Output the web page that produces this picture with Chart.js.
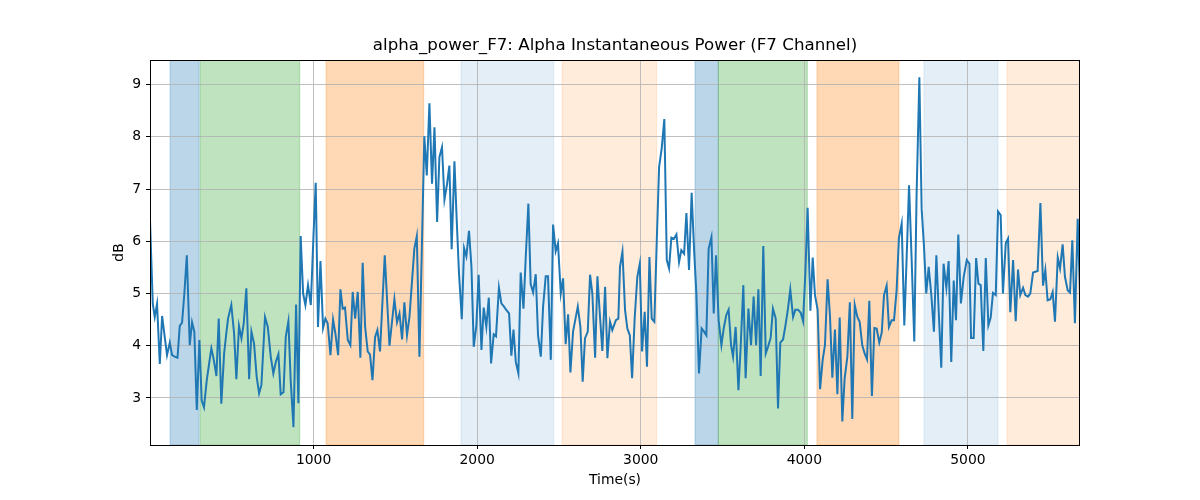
<!DOCTYPE html>
<html>
<head>
<meta charset="utf-8">
<script src="https://cdn.jsdelivr.net/npm/chart.js@4/dist/chart.umd.min.js"></script>
<style>
  html, body { margin: 0; padding: 0; background: #fff; }
  canvas { display: block; }
</style>
</head>
<body>
<canvas id="chart" width="1200" height="500"></canvas>
<script>
// time stamps (s) and alpha power (dB)
const timeSec = [
  0, 17, 29, 43, 60, 74, 90, 104, 121, 135, 151, 168, 182, 196, 210, 225, 243, 257, 271, 286,
  302, 316, 330, 347, 361, 375, 390, 406, 420, 436, 453, 465, 477, 497, 514, 528, 544, 559, 573, 589,
  606, 620, 636, 652, 667, 681, 703, 720, 738, 754, 769, 785, 799, 816, 830, 846, 860, 877, 893, 907,
  921, 936, 950, 966, 983, 999, 1013, 1027, 1042, 1058, 1072, 1086, 1103, 1119, 1133, 1150, 1164, 1178, 1192, 1209,
  1225, 1239, 1254, 1270, 1286, 1300, 1315, 1331, 1345, 1360, 1376, 1390, 1406, 1435, 1464, 1494, 1510, 1525, 1541, 1555,
  1571, 1586, 1616, 1631, 1647, 1677, 1692, 1708, 1724, 1739, 1755, 1769, 1785, 1800, 1816, 1830, 1844, 1861, 1875, 1889,
  1906, 1920, 1934, 1950, 1965, 1979, 1995, 2009, 2026, 2040, 2056, 2071, 2085, 2101, 2115, 2133, 2148, 2164, 2179, 2195,
  2209, 2222, 2236, 2252, 2266, 2283, 2297, 2313, 2327, 2342, 2358, 2372, 2389, 2403, 2419, 2433, 2450, 2464, 2480, 2494,
  2511, 2525, 2541, 2556, 2570, 2586, 2600, 2615, 2631, 2645, 2659, 2676, 2690, 2704, 2721, 2735, 2751, 2765, 2782, 2796,
  2812, 2826, 2848, 2863, 2873, 2888, 2904, 2918, 2933, 2947, 2963, 2979, 2994, 3008, 3024, 3038, 3053, 3067, 3083, 3098,
  3112, 3128, 3144, 3159, 3173, 3187, 3203, 3218, 3234, 3248, 3265, 3279, 3295, 3311, 3326, 3340, 3356, 3372, 3387, 3401,
  3415, 3432, 3446, 3460, 3476, 3493, 3507, 3523, 3537, 3552, 3564, 3580, 3597, 3611, 3627, 3641, 3658, 3674, 3690, 3705,
  3719, 3733, 3749, 3764, 3778, 3794, 3808, 3825, 3839, 3853, 3870, 3885, 3900, 3914, 3931, 3945, 3961, 3978, 3992, 4006,
  4020, 4037, 4051, 4065, 4081, 4096, 4112, 4126, 4142, 4157, 4171, 4187, 4202, 4216, 4232, 4246, 4263, 4278, 4293, 4308,
  4324, 4338, 4354, 4369, 4383, 4397, 4413, 4428, 4442, 4458, 4473, 4487, 4503, 4517, 4534, 4548, 4564, 4578, 4595, 4611,
  4625, 4640, 4656, 4672, 4686, 4703, 4717, 4731, 4745, 4760, 4776, 4792, 4807, 4821, 4837, 4851, 4868, 4882, 4898, 4913,
  4927, 4941, 4957, 4974, 4993, 5009, 5019, 5035, 5050, 5064, 5078, 5094, 5109, 5125, 5139, 5153, 5170, 5184, 5200, 5214,
  5231, 5245, 5259, 5276, 5292, 5306, 5320, 5337, 5351, 5367, 5381, 5398, 5426, 5443, 5459, 5473, 5487, 5504, 5518, 5532,
  5549, 5563, 5579, 5593, 5610, 5624, 5638, 5654, 5671, 5685
]
const alphaDb = [
  6.4, 4.8, 4.55, 4.8, 3.65, 4.57, 4.17, 3.82, 4.06, 3.82, 3.79, 3.77, 4.38, 4.44, 5.0, 5.73, 4.01, 4.45, 4.27, 2.77,
  4.11, 2.95, 2.82, 3.34, 3.65, 3.95, 3.73, 3.42, 4.52, 2.89, 3.85, 4.2, 4.52, 4.78, 4.24, 3.36, 4.38, 4.14, 4.43, 5.1,
  3.36, 4.27, 4.04, 3.41, 3.09, 3.25, 4.55, 4.36, 3.79, 3.47, 3.69, 3.84, 3.07, 3.11, 4.17, 4.47, 3.34, 2.44, 4.79, 2.9,
  6.1, 5.0, 4.78, 5.16, 4.78, 6.08, 7.12, 4.36, 5.62, 4.34, 4.52, 4.43, 3.82, 4.5, 4.24, 3.82, 5.08, 4.71, 4.73, 4.11,
  4.01, 5.03, 4.52, 5.03, 3.77, 5.59, 4.36, 3.89, 3.83, 3.34, 4.17, 4.3, 3.89, 5.73, 4.0, 4.89, 4.45, 4.62, 4.12, 4.83,
  4.2, 4.55, 5.86, 6.1, 3.79, 8.01, 7.26, 8.64, 7.1, 8.18, 6.37, 7.61, 7.8, 6.8, 7.1, 7.45, 5.85, 7.53, 6.4, 5.38,
  4.51, 5.87, 5.71, 6.2, 5.51, 3.98, 4.39, 5.36, 3.92, 4.73, 4.36, 4.92, 3.66, 4.22, 4.18, 5.11, 4.81, 4.75, 4.68, 4.62,
  3.81, 4.31, 3.69, 3.47, 5.4, 4.71, 5.7, 6.72, 5.18, 5.02, 5.37, 4.2, 3.79, 4.75, 5.33, 5.33, 3.73, 6.32, 5.81, 5.96,
  5.0, 5.29, 4.03, 4.6, 3.49, 4.27, 4.5, 4.75, 4.36, 3.31, 4.14, 4.27, 5.36, 5.0, 3.77, 5.33, 4.55, 3.9, 5.13, 3.76,
  4.46, 4.3, 4.49, 4.52, 5.51, 5.8, 4.68, 4.33, 4.2, 3.38, 4.54, 5.32, 5.57, 3.89, 4.65, 3.6, 5.7, 4.52, 4.46, 6.02,
  7.42, 7.78, 8.34, 5.64, 5.48, 6.07, 6.05, 6.13, 5.6, 5.83, 5.76, 6.54, 5.45, 6.93, 5.83, 5.0, 3.47, 4.33, 4.27, 4.2,
  5.86, 6.08, 4.62, 5.73, 4.49, 4.01, 4.33, 4.59, 4.69, 4.01, 3.79, 4.36, 3.15, 4.0, 5.16, 3.38, 4.71, 4.01, 4.94, 4.01,
  5.08, 3.42, 5.91, 3.85, 3.98, 4.15, 4.71, 4.52, 2.8, 4.06, 4.12, 4.4, 4.71, 5.08, 4.55, 4.69, 4.69, 4.63, 4.47, 5.38,
  6.64, 4.67, 5.69, 4.97, 4.69, 3.17, 3.73, 4.01, 5.27, 4.55, 3.39, 4.31, 3.07, 4.54, 2.55, 3.36, 3.79, 4.83, 2.6, 4.78,
  4.55, 4.46, 4.01, 3.85, 3.74, 4.86, 3.04, 4.34, 4.33, 4.06, 4.25, 4.97, 5.15, 4.36, 4.49, 4.49, 5.06, 6.06, 6.34, 4.39,
  5.66, 7.07, 5.64, 4.08, 6.88, 9.14, 6.62, 5.92, 5.0, 5.51, 4.98, 4.27, 5.73, 4.68, 3.58, 5.57, 5.11, 5.62, 3.69, 5.25,
  4.49, 6.13, 4.81, 5.32, 5.64, 5.57, 4.15, 4.15, 5.68, 5.19, 5.16, 3.9, 5.68, 4.39, 4.54, 5.01, 4.97, 6.57, 6.5, 5.0,
  5.96, 6.05, 4.64, 5.64, 4.47, 5.46, 4.97, 5.11, 4.97, 4.94, 5.0, 5.4, 5.43, 6.73, 5.15, 5.45, 4.87, 4.89, 5.03, 4.46,
  5.69, 5.48, 5.94, 5.32, 5.06, 5.02, 6.02, 4.43, 6.43, 5.0
]

// shaded segments
const spanStart = [123, 306, 1076, 1901, 2519, 3332, 3474, 4077, 4731, 5239]
const spanEnd   = [300, 915, 1673, 2468, 3097, 3474, 4018, 4578, 5184, 5685]
const spanKind  = ['blue', 'green', 'orange', 'paleblue', 'paleorange',
                   'blue', 'green', 'orange', 'paleblue', 'paleorange']

const xTicks = [1000, 2000, 3000, 4000, 5000]
const yTicks = [3, 4, 5, 6, 7, 8, 9]

const spanColors = {
  blue: 'rgba(31,119,180,0.3)',
  green: 'rgba(44,160,44,0.3)',
  orange: 'rgba(255,127,14,0.3)',
  paleblue: 'rgba(31,119,180,0.12)',
  paleorange: 'rgba(255,127,14,0.15)'
}

Chart.defaults.font.family = '"DejaVu Sans", sans-serif'
Chart.defaults.color = '#000'

const spansPlugin = {
  id: 'spans',
  beforeDraw(chart){
    const {ctx, chartArea, scales} = chart
    ctx.save()
    ctx.beginPath()
    ctx.rect(chartArea.left, chartArea.top, chartArea.right - chartArea.left, chartArea.bottom - chartArea.top)
    ctx.clip()
    spanStart.forEach((s, i) => {
      const x0 = scales.x.getPixelForValue(s),
            x1 = scales.x.getPixelForValue(spanEnd[i])
      ctx.fillStyle = spanColors[spanKind[i]]
      ctx.strokeStyle = spanColors[spanKind[i]]
      ctx.lineWidth = 1
      ctx.fillRect(x0, chartArea.top, x1 - x0, chartArea.bottom - chartArea.top)
      ctx.strokeRect(x0, chartArea.top, x1 - x0, chartArea.bottom - chartArea.top)
    })
    ctx.restore()
  }
}

const framePlugin = {
  id: 'frame',
  afterDraw(chart){
    const {ctx, chartArea} = chart
    ctx.save()
    ctx.strokeStyle = '#000'
    ctx.lineWidth = 1
    ctx.strokeRect(Math.round(chartArea.left) + 0.5, Math.round(chartArea.top) + 0.5,
                   Math.round(chartArea.right - chartArea.left) - 1, Math.round(chartArea.bottom - chartArea.top))
    ctx.restore()
  }
}

new Chart(document.getElementById('chart'), {
  type: 'line',
  data: {
    datasets: [{
      data: timeSec.map((t, i) => ({x: t, y: alphaDb[i]})),
      borderColor: '#1f77b4',
      borderWidth: 2,
      pointRadius: 0,
      tension: 0,
      fill: false
    }]
  },
  options: {
    responsive: false,
    animation: false,
    devicePixelRatio: 1,
    layout: { padding: { left: 107, right: 120, top: 36, bottom: 7 } },
    plugins: {
      legend: { display: false },
      tooltip: { enabled: false },
      title: {
        display: true,
        fullSize: false, // center over the plot area, like matplotlib
        text: 'alpha_power_F7: Alpha Instantaneous Power (F7 Channel)',
        font: { size: 16.67, weight: 'normal', lineHeight: 1.2 },
        color: '#000',
        padding: { top: 0, bottom: 4 }
      }
    },
    scales: {
      x: {
        type: 'linear',
        min: 0,
        max: 5685,
        afterBuildTicks: s => { s.ticks = xTicks.map(v => ({value: v})) },
        afterFit: s => { s.height = 48 },
        ticks: { font: { size: 13.9 }, padding: 3, maxRotation: 0, callback: v => String(v) },
        grid: { color: '#b0b0b0', lineWidth: 0.8, tickLength: 4, tickColor: '#000', tickWidth: 1 },
        border: { display: false },
        title: { display: true, text: 'Time(s)', font: { size: 13.9 }, padding: { top: 4, bottom: 4 } }
      },
      y: {
        min: 2.1,
        max: 9.47,
        afterBuildTicks: s => { s.ticks = yTicks.map(v => ({value: v})) },
        afterFit: s => { s.width = 43 },
        ticks: { font: { size: 13.9 }, padding: 5, callback: v => String(v) },
        grid: { color: '#b0b0b0', lineWidth: 0.8, tickLength: 4, tickColor: '#000', tickWidth: 1 },
        border: { display: false },
        title: { display: true, text: 'dB', font: { size: 13.9 }, padding: { top: 4, bottom: 4 } }
      }
    }
  },
  plugins: [spansPlugin, framePlugin]
})
</script>
</body>
</html>
